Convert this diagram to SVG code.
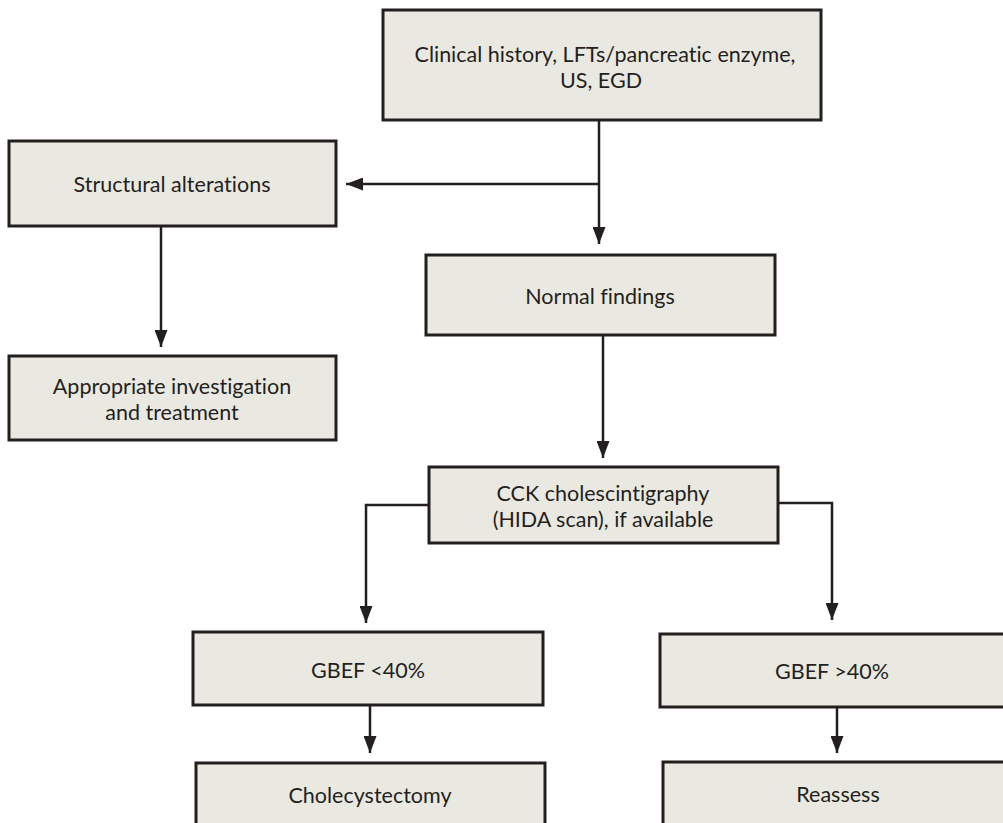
<svg xmlns="http://www.w3.org/2000/svg" width="1003" height="823" viewBox="0 0 1003 823">
<style>
.box{fill:#eae9e1;stroke:#231f20;stroke-width:3}
.lbl{font-family:Lato,"Noto Sans",sans-serif;font-size:21.5px;fill:#231f20;text-anchor:middle;font-variant-ligatures:none;font-feature-settings:"liga" 0,"dlig" 0}
.con{fill:none;stroke:#231f20;stroke-width:2.5}
</style>
<defs>
<marker id="ah" viewBox="0 0 17 13" refX="17" refY="6.5" markerWidth="17" markerHeight="13" markerUnits="userSpaceOnUse" orient="auto">
<path d="M0,0 L17,6.5 L0,13 z" fill="#231f20"/>
</marker>
</defs>
<rect width="1003" height="823" fill="#ffffff"/>
<g id="connectors">
<path class="con" d="M599,120 V244" marker-end="url(#ah)"/>
<path class="con" d="M599,184 H346" marker-end="url(#ah)"/>
<path class="con" d="M161,226 V347" marker-end="url(#ah)"/>
<path class="con" d="M603,335 V458" marker-end="url(#ah)"/>
<path class="con" d="M429,505 H366 V623" marker-end="url(#ah)"/>
<path class="con" d="M778,503 H832 V620" marker-end="url(#ah)"/>
<path class="con" d="M370,705 V753" marker-end="url(#ah)"/>
<path class="con" d="M837,707 V753" marker-end="url(#ah)"/>
</g>
<g id="n_clinical">
<rect class="box" x="383" y="10" width="438" height="110"/>
<text class="lbl"><tspan x="605" y="62">Clinical history, LFTs/pancreatic enzyme,</tspan><tspan x="601" y="88">US, EGD</tspan></text>
</g>
<g id="n_structural">
<rect class="box" x="9" y="141" width="327" height="85"/>
<text class="lbl" x="172" y="192">Structural alterations</text>
</g>
<g id="n_appropriate">
<rect class="box" x="9" y="356" width="327" height="84"/>
<text class="lbl"><tspan x="172" y="394">Appropriate investigation</tspan><tspan x="172" y="420">and treatment</tspan></text>
</g>
<g id="n_normal">
<rect class="box" x="426" y="255" width="349" height="80"/>
<text class="lbl" x="600" y="304">Normal findings</text>
</g>
<g id="n_cck">
<rect class="box" x="429" y="467" width="349" height="76"/>
<text class="lbl"><tspan x="603" y="501">CCK cholescintigraphy</tspan><tspan x="603" y="527">(HIDA scan), if available</tspan></text>
</g>
<g id="n_gbef_low">
<rect class="box" x="193" y="632" width="350" height="73"/>
<text class="lbl" x="368" y="678">GBEF &lt;40%</text>
</g>
<g id="n_gbef_high">
<rect class="box" x="660" y="634" width="350" height="73"/>
<text class="lbl" x="832" y="679">GBEF &gt;40%</text>
</g>
<g id="n_chole">
<rect class="box" x="196" y="763" width="349" height="80"/>
<text class="lbl" x="370" y="803">Cholecystectomy</text>
</g>
<g id="n_reassess">
<rect class="box" x="663" y="762" width="350" height="80"/>
<text class="lbl" x="838" y="802">Reassess</text>
</g>
</svg>
